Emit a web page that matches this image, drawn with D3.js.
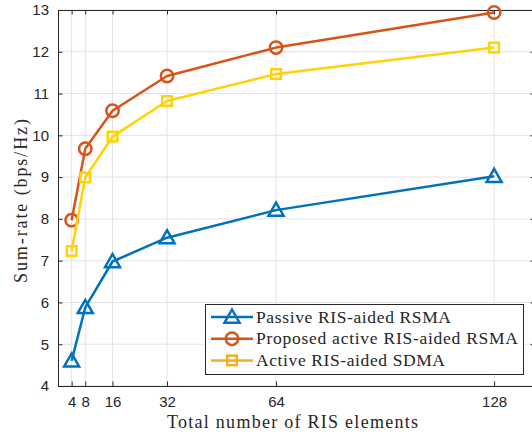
<!DOCTYPE html>
<html>
<head>
<meta charset="utf-8">
<script src="https://cdn.jsdelivr.net/npm/d3@7"></script>
<style>
  body { margin: 0; background: #fff; }
  svg { display: block; }
  .tick text { font-family: "Liberation Sans", Arial, sans-serif; font-size: 15px; fill: #262626; }
  .lbl { font-family: "Liberation Serif", "Times New Roman", serif; fill: #262626; }
</style>
</head>
<body>
<script>
'use strict';

var width = 532,
    height = 435;

// data
var elements = [4, 8, 16, 32, 64, 128];
var passiveRSMA = [4.60, 5.88, 6.98, 7.55, 8.21, 9.02];
var activeRSMA = [7.97, 9.68, 10.59, 11.42, 12.10, 12.94];
var activeSDMA = [7.23, 8.99, 9.97, 10.82, 11.47, 12.10];
var xTicks = [4, 8, 16, 32, 64, 128];
var yTicks = [4, 5, 6, 7, 8, 9, 10, 11, 12, 13];

var series = [
  {name: 'Passive RIS-aided RSMA', values: passiveRSMA, color: '#0072bd', legendColor: '#0072bd', marker: 'tri', w: 195},
  {name: 'Proposed active RIS-aided RSMA', values: activeRSMA, color: '#d95319', legendColor: '#d95319', marker: 'circ', w: 262},
  {name: 'Active RIS-aided SDMA', values: activeSDMA, color: '#ffd200', legendColor: '#edb120', marker: 'sq', w: 189}
];

var margin = {left: 58, top: 10, right: 535, bottom: 386};

var x = d3.scaleLinear().domain([0, 140]).range([margin.left, margin.right]);
var y = d3.scaleLinear().domain([4, 13]).range([margin.bottom, margin.top]);

var svg = d3.select('body').append('svg')
  .attr('width', width)
  .attr('height', height);

// grid
var grid = svg.append('g').attr('stroke', '#e3e3e3').attr('stroke-width', 1);
xTicks.forEach(function(t) {
  grid.append('line').attr('x1', x(t)).attr('x2', x(t)).attr('y1', margin.top).attr('y2', margin.bottom);
});
yTicks.forEach(function(t) {
  grid.append('line').attr('x1', margin.left).attr('x2', margin.right).attr('y1', y(t)).attr('y2', y(t));
});

// axes
var xAxis = svg.append('g')
  .attr('transform', 'translate(0,' + margin.bottom + ')')
  .call(d3.axisBottom(x).tickValues(xTicks).tickSize(-4.5).tickPadding(10).tickSizeOuter(0));
var xTop = svg.append('g')
  .attr('transform', 'translate(0,' + margin.top + ')')
  .call(d3.axisTop(x).tickValues(xTicks).tickSize(-4.5).tickFormat('').tickSizeOuter(0));
var yAxis = svg.append('g')
  .attr('transform', 'translate(' + margin.left + ',0)')
  .call(d3.axisLeft(y).tickValues(yTicks).tickSize(-4.5).tickPadding(9).tickSizeOuter(0));
var yRight = svg.append('g')
  .attr('transform', 'translate(' + margin.right + ',0)')
  .call(d3.axisRight(y).tickValues(yTicks).tickSize(-4.5).tickFormat('').tickSizeOuter(0));
[xAxis, xTop, yAxis, yRight].forEach(function(a) {
  a.selectAll('path.domain').attr('stroke', '#262626').attr('stroke-width', 1);
  a.selectAll('.tick line').attr('stroke', '#262626');
});

// lines + markers
var line = d3.line()
  .x(function(d, i) { return x(elements[i]); })
  .y(function(d) { return y(d); });

function drawMarker(g, type, cx, cy, color) {
  if (type === 'tri') {
    var s = 7.5;
    g.append('path')
      .attr('d', 'M' + cx + ',' + (cy - s) + 'L' + (cx + s) + ',' + (cy + s * 0.75) + 'L' + (cx - s) + ',' + (cy + s * 0.75) + 'Z')
      .attr('fill', 'none').attr('stroke', color).attr('stroke-width', 2.5);
  } else if (type === 'circ') {
    g.append('circle').attr('cx', cx).attr('cy', cy).attr('r', 6.2)
      .attr('fill', 'none').attr('stroke', color).attr('stroke-width', 2.5);
  } else {
    g.append('rect').attr('x', cx - 4.8).attr('y', cy - 4.8).attr('width', 9.6).attr('height', 9.6)
      .attr('fill', 'none').attr('stroke', color).attr('stroke-width', 2.5);
  }
}

series.forEach(function(s) {
  var g = svg.append('g');
  g.append('path').datum(s.values)
    .attr('d', line)
    .attr('fill', 'none')
    .attr('stroke', s.color)
    .attr('stroke-width', 2.5)
    .attr('stroke-linejoin', 'round');
  s.values.forEach(function(v, i) {
    drawMarker(g, s.marker, x(elements[i]), y(v), s.color);
  });
});

// legend
var lg = svg.append('g');
lg.append('rect')
  .attr('x', 205.5).attr('y', 304.5).attr('width', 318).attr('height', 70)
  .attr('fill', '#fff').attr('stroke', '#262626').attr('stroke-width', 1);
series.forEach(function(s, i) {
  var ly = 317 + i * 21.7;
  lg.append('line').attr('x1', 211).attr('x2', 253).attr('y1', ly).attr('y2', ly)
    .attr('stroke', s.legendColor).attr('stroke-width', 2.5);
  drawMarker(lg, s.marker, 232, ly, s.legendColor);
  lg.append('text').attr('class', 'lbl')
    .attr('x', 256).attr('y', ly + 5.5)
    .attr('font-size', 17.5)
    .attr('textLength', s.w)
    .attr('lengthAdjust', 'spacing')
    .text(s.name);
});

// axis labels
svg.append('text').attr('class', 'lbl')
  .attr('x', 292.5).attr('y', 427.5)
  .attr('text-anchor', 'middle')
  .attr('font-size', 18)
  .attr('textLength', 251)
  .attr('lengthAdjust', 'spacing')
  .text('Total number of RIS elements');
svg.append('text').attr('class', 'lbl')
  .attr('transform', 'translate(27,201) rotate(-90)')
  .attr('text-anchor', 'middle')
  .attr('font-size', 18)
  .attr('textLength', 164)
  .attr('lengthAdjust', 'spacing')
  .text('Sum-rate (bps/Hz)');
</script>
</body>
</html>
